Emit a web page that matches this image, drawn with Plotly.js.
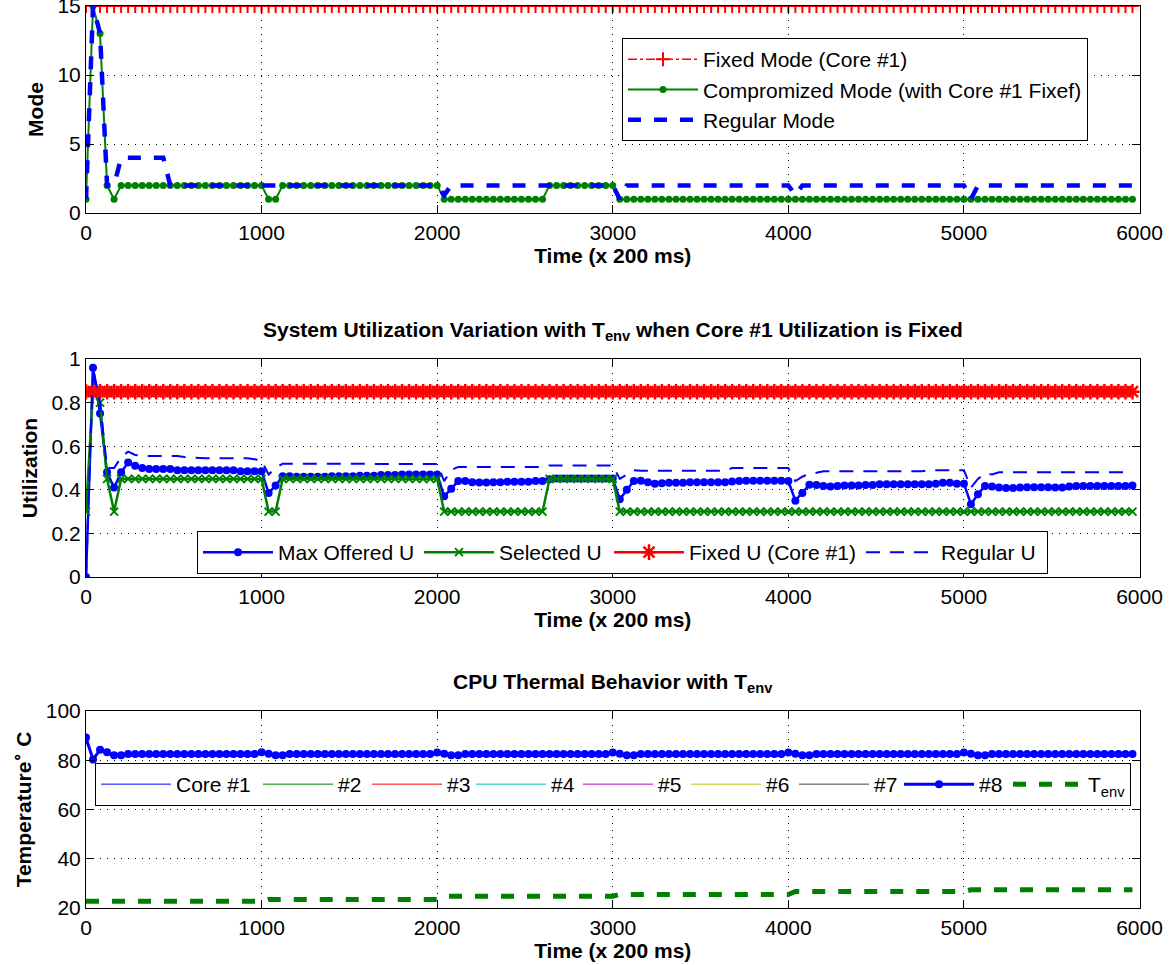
<!DOCTYPE html>
<html><head><meta charset="utf-8">
<script src="https://cdn.plot.ly/plotly-3.0.1.min.js"></script>
<style>html,body{margin:0;padding:0;background:#fff}#chart{width:1172px;height:965px}</style>
</head><body><div id="chart"></div>
<script>
// ---------- DATA ----------
const time = [
0,40,80,120,160,200,240,280,320,360,400,440,480,520,560,600,640,680,720,760,800,840,880,920,960,1000,
1040,1080,1120,1160,1200,1240,1280,1320,1360,1400,1440,1480,1520,1560,1600,1640,1680,1720,1760,1800,1840,1880,1920,1960,2000,
2040,2080,2120,2160,2200,2240,2280,2320,2360,2400,2440,2480,2520,2560,2600,2640,2680,2720,2760,2800,2840,2880,2920,2960,3000,
3040,3080,3120,3160,3200,3240,3280,3320,3360,3400,3440,3480,3520,3560,3600,3640,3680,3720,3760,3800,3840,3880,3920,3960,4000,
4040,4080,4120,4160,4200,4240,4280,4320,4360,4400,4440,4480,4520,4560,4600,4640,4680,4720,4760,4800,4840,4880,4920,4960,5000,
5040,5080,5120,5160,5200,5240,5280,5320,5360,5400,5440,5480,5520,5560,5600,5640,5680,5720,5760,5800,5840,5880,5920,5960];

const modeFixed = [
15,15,15,15,15, 15,15,15,15,15, 15,15,15,15,15, 15,15,15,15,15, 15,15,15,15,15,
15,15,15,15,15, 15,15,15,15,15, 15,15,15,15,15, 15,15,15,15,15, 15,15,15,15,15,
15,15,15,15,15, 15,15,15,15,15, 15,15,15,15,15, 15,15,15,15,15, 15,15,15,15,15,
15,15,15,15,15, 15,15,15,15,15, 15,15,15,15,15, 15,15,15,15,15, 15,15,15,15,15,
15,15,15,15,15, 15,15,15,15,15, 15,15,15,15,15, 15,15,15,15,15, 15,15,15,15,15,
15,15,15,15,15, 15,15,15,15,15, 15,15,15,15,15, 15,15,15,15,15, 15,15,15,15,15];

const modeCompromized = [
1,15,13,2,1, 2,2,2,2,2, 2,2,2,2,2, 2,2,2,2,2, 2,2,2,2,2,
2,1,1,2,2, 2,2,2,2,2, 2,2,2,2,2, 2,2,2,2,2, 2,2,2,2,2,
2,1,1,1,1, 1,1,1,1,1, 1,1,1,1,1, 1,2,2,2,2, 2,2,2,2,2,
2,1,1,1,1, 1,1,1,1,1, 1,1,1,1,1, 1,1,1,1,1, 1,1,1,1,1,
1,1,1,1,1, 1,1,1,1,1, 1,1,1,1,1, 1,1,1,1,1, 1,1,1,1,1,
1,1,1,1,1, 1,1,1,1,1, 1,1,1,1,1, 1,1,1,1,1, 1,1,1,1,1];

const modeRegular = [
1,15,13,2,2, 4,4,4,4,4, 4,4,2,2,2, 2,2,2,2,2, 2,2,2,2,2,
2,2,2,2,2, 2,2,2,2,2, 2,2,2,2,2, 2,2,2,2,2, 2,2,2,2,2,
2,1.3,2,2,2, 2,2,2,2,2, 2,2,2,2,2, 2,2,2,2,2, 2,2,2,2,2,
2,1,2,2,2, 2,2,2,2,2, 2,2,2,2,2, 2,2,2,2,2, 2,2,2,2,2,
2,1.3,2,2,2, 2,2,2,2,2, 2,2,2,2,2, 2,2,2,2,2, 2,2,2,2,2,
2,1,2,2,2, 2,2,2,2,2, 2,2,2,2,2, 2,2,2,2,2, 2,2,2,2,2];

const maxOfferedU = [
0,0.96,0.75,0.48,0.41, 0.48,0.525,0.51,0.5,0.495, 0.495,0.495,0.495,0.49,0.49, 0.49,0.49,0.49,0.49,0.49, 0.49,0.49,0.485,0.485,0.485,
0.485,0.385,0.42,0.462,0.462, 0.46,0.46,0.46,0.46,0.46, 0.462,0.462,0.462,0.462,0.465, 0.465,0.465,0.468,0.468,0.468, 0.47,0.47,0.47,0.47,0.47,
0.47,0.37,0.405,0.44,0.44, 0.435,0.433,0.433,0.435,0.435, 0.437,0.437,0.437,0.437,0.44, 0.44,0.448,0.452,0.452,0.452, 0.452,0.452,0.452,0.452,0.452,
0.452,0.357,0.4,0.44,0.442, 0.435,0.428,0.43,0.432,0.432, 0.432,0.435,0.435,0.435,0.435, 0.435,0.435,0.438,0.44,0.442, 0.442,0.442,0.442,0.442,0.442,
0.44,0.35,0.385,0.423,0.422, 0.418,0.415,0.418,0.42,0.42, 0.42,0.422,0.422,0.425,0.425, 0.425,0.425,0.425,0.425,0.425, 0.425,0.428,0.432,0.432,0.428,
0.428,0.334,0.38,0.418,0.415, 0.41,0.408,0.408,0.41,0.412, 0.412,0.412,0.412,0.41,0.41, 0.415,0.418,0.418,0.418,0.418, 0.418,0.418,0.418,0.418,0.42];

const selectedU = [
0.3,0.85,0.8,0.45,0.3, 0.45,0.45,0.45,0.45,0.45, 0.45,0.45,0.45,0.45,0.45, 0.45,0.45,0.45,0.45,0.45, 0.45,0.45,0.45,0.45,0.45,
0.45,0.3,0.3,0.45,0.45, 0.45,0.45,0.45,0.45,0.45, 0.45,0.45,0.45,0.45,0.45, 0.45,0.45,0.45,0.45,0.45, 0.45,0.45,0.45,0.45,0.45,
0.45,0.3,0.3,0.3,0.3, 0.3,0.3,0.3,0.3,0.3, 0.3,0.3,0.3,0.3,0.3, 0.3,0.45,0.45,0.45,0.45, 0.45,0.45,0.45,0.45,0.45,
0.45,0.3,0.3,0.3,0.3, 0.3,0.3,0.3,0.3,0.3, 0.3,0.3,0.3,0.3,0.3, 0.3,0.3,0.3,0.3,0.3, 0.3,0.3,0.3,0.3,0.3,
0.3,0.3,0.3,0.3,0.3, 0.3,0.3,0.3,0.3,0.3, 0.3,0.3,0.3,0.3,0.3, 0.3,0.3,0.3,0.3,0.3, 0.3,0.3,0.3,0.3,0.3,
0.3,0.3,0.3,0.3,0.3, 0.3,0.3,0.3,0.3,0.3, 0.3,0.3,0.3,0.3,0.3, 0.3,0.3,0.3,0.3,0.3, 0.3,0.3,0.3,0.3,0.3];

const fixedU = [
0.85,0.85,0.85,0.85,0.85, 0.85,0.85,0.85,0.85,0.85, 0.85,0.85,0.85,0.85,0.85, 0.85,0.85,0.85,0.85,0.85, 0.85,0.85,0.85,0.85,0.85,
0.85,0.85,0.85,0.85,0.85, 0.85,0.85,0.85,0.85,0.85, 0.85,0.85,0.85,0.85,0.85, 0.85,0.85,0.85,0.85,0.85, 0.85,0.85,0.85,0.85,0.85,
0.85,0.85,0.85,0.85,0.85, 0.85,0.85,0.85,0.85,0.85, 0.85,0.85,0.85,0.85,0.85, 0.85,0.85,0.85,0.85,0.85, 0.85,0.85,0.85,0.85,0.85,
0.85,0.85,0.85,0.85,0.85, 0.85,0.85,0.85,0.85,0.85, 0.85,0.85,0.85,0.85,0.85, 0.85,0.85,0.85,0.85,0.85, 0.85,0.85,0.85,0.85,0.85,
0.85,0.85,0.85,0.85,0.85, 0.85,0.85,0.85,0.85,0.85, 0.85,0.85,0.85,0.85,0.85, 0.85,0.85,0.85,0.85,0.85, 0.85,0.85,0.85,0.85,0.85,
0.85,0.85,0.85,0.85,0.85, 0.85,0.85,0.85,0.85,0.85, 0.85,0.85,0.85,0.85,0.85, 0.85,0.85,0.85,0.85,0.85, 0.85,0.85,0.85,0.85,0.85];

const regularU = [
0,0.96,0.8,0.5,0.5, 0.55,0.575,0.56,0.555,0.555, 0.555,0.555,0.555,0.555,0.55, 0.548,0.545,0.545,0.545,0.545, 0.545,0.545,0.545,0.545,0.54,
0.535,0.47,0.5,0.52,0.52, 0.52,0.52,0.52,0.52,0.52, 0.52,0.52,0.52,0.52,0.52, 0.518,0.518,0.518,0.518,0.518, 0.518,0.518,0.518,0.518,0.518,
0.518,0.44,0.49,0.505,0.505, 0.505,0.505,0.505,0.505,0.505, 0.505,0.505,0.505,0.505,0.505, 0.505,0.512,0.512,0.512,0.512, 0.512,0.512,0.512,0.512,0.512,
0.512,0.45,0.47,0.49,0.487, 0.487,0.487,0.487,0.487,0.487, 0.487,0.487,0.487,0.487,0.487, 0.487,0.487,0.5,0.5,0.5, 0.5,0.5,0.5,0.5,0.5,
0.5,0.44,0.46,0.475,0.478, 0.485,0.485,0.485,0.485,0.485, 0.485,0.485,0.485,0.485,0.485, 0.485,0.485,0.485,0.485,0.485, 0.49,0.49,0.49,0.49,0.49,
0.49,0.41,0.45,0.475,0.47, 0.48,0.48,0.48,0.48,0.48, 0.48,0.48,0.48,0.48,0.48, 0.48,0.48,0.48,0.48,0.48, 0.48,0.48,0.48,0.48,0.48];

const core8Temp = [
89.2,80.3,84.3,83.2,82.0, 82.0,82.5,82.5,82.5,82.5, 82.5,82.5,82.5,82.5,82.5, 82.5,82.5,82.5,82.5,82.5, 82.5,82.5,82.5,82.5,82.5,
83.2,82.6,82.0,82.0,82.5, 82.5,82.5,82.5,82.5,82.5, 82.5,82.5,82.5,82.5,82.5, 82.5,82.5,82.5,82.5,82.5, 82.5,82.5,82.5,82.5,82.5,
83.1,82.6,82.0,82.0,82.5, 82.5,82.5,82.5,82.5,82.5, 82.5,82.5,82.5,82.5,82.5, 82.5,82.5,82.5,82.5,82.5, 82.5,82.5,82.5,82.5,82.5,
83.1,82.6,82.0,82.0,82.5, 82.5,82.5,82.5,82.5,82.5, 82.5,82.5,82.5,82.5,82.5, 82.5,82.5,82.5,82.5,82.5, 82.5,82.5,82.5,82.5,82.5,
83.1,82.6,82.0,82.0,82.5, 82.5,82.5,82.5,82.5,82.5, 82.5,82.5,82.5,82.5,82.5, 82.5,82.5,82.5,82.5,82.5, 82.5,82.5,82.5,82.5,82.5,
83.1,82.6,82.0,82.0,82.5, 82.5,82.5,82.5,82.5,82.5, 82.5,82.5,82.5,82.5,82.5, 82.5,82.5,82.5,82.5,82.5, 82.5,82.5,82.5,82.5,82.5];

// cores #1..#7 are drawn underneath #8 and cannot be told apart: one shared reading
const otherCoresTemp = [
87.8,80.8,83.9,82.8,81.6, 81.5,81.8,81.8,81.8,81.8, 81.8,81.8,81.8,81.8,81.8, 81.8,81.8,81.8,81.8,81.8, 81.8,81.8,81.8,81.8,81.8,
82.7,82.1,81.5,81.5,81.8, 81.8,81.8,81.8,81.8,81.8, 81.8,81.8,81.8,81.8,81.8, 81.8,81.8,81.8,81.8,81.8, 81.8,81.8,81.8,81.8,81.8,
82.6,82.1,81.5,81.5,81.8, 81.8,81.8,81.8,81.8,81.8, 81.8,81.8,81.8,81.8,81.8, 81.8,81.8,81.8,81.8,81.8, 81.8,81.8,81.8,81.8,81.8,
82.6,82.1,81.5,81.5,81.8, 81.8,81.8,81.8,81.8,81.8, 81.8,81.8,81.8,81.8,81.8, 81.8,81.8,81.8,81.8,81.8, 81.8,81.8,81.8,81.8,81.8,
82.6,82.1,81.5,81.5,81.8, 81.8,81.8,81.8,81.8,81.8, 81.8,81.8,81.8,81.8,81.8, 81.8,81.8,81.8,81.8,81.8, 81.8,81.8,81.8,81.8,81.8,
82.6,82.1,81.5,81.5,81.8, 81.8,81.8,81.8,81.8,81.8, 81.8,81.8,81.8,81.8,81.8, 81.8,81.8,81.8,81.8,81.8, 81.8,81.8,81.8,81.8,81.8];

const tEnv = [
22.7,22.7,22.7,22.7,22.7, 22.7,22.7,22.7,22.7,22.7, 22.7,22.7,22.7,22.7,22.7, 22.7,22.7,22.7,22.7,22.7, 22.7,22.7,22.7,22.7,22.7,
22.7,23.5,23.5,23.5,23.5, 23.5,23.5,23.5,23.5,23.5, 23.5,23.5,23.5,23.5,23.5, 23.5,23.5,23.5,23.5,23.5, 23.5,23.5,23.5,23.5,23.5,
23.5,24.8,24.8,24.8,24.8, 24.8,24.8,24.8,24.8,24.8, 24.8,24.8,24.8,24.8,24.8, 24.8,24.8,24.8,24.8,24.8, 24.8,24.8,24.8,24.8,24.8,
24.8,25.5,25.5,25.5,25.5, 25.5,25.5,25.5,25.5,25.5, 25.5,25.5,25.5,25.5,25.5, 25.5,25.5,25.5,25.5,25.5, 25.5,25.5,25.5,25.5,25.5,
25.5,26.7,26.7,26.7,26.7, 26.7,26.7,26.7,26.7,26.7, 26.7,26.7,26.7,26.7,26.7, 26.7,26.7,26.7,26.7,26.7, 26.7,26.7,26.7,26.7,26.7,
26.7,27.4,27.4,27.4,27.4, 27.4,27.4,27.4,27.4,27.4, 27.4,27.4,27.4,27.4,27.4, 27.4,27.4,27.4,27.4,27.4, 27.4,27.4,27.4,27.4,27.4];

const xTicks = [0,1000,2000,3000,4000,5000,6000];
const modeTicks = [0,5,10,15];
const utilTicks = [0,0.2,0.4,0.6,0.8,1];
const utilTickText = ['0','0.2','0.4','0.6','0.8','1'];
const tempTicks = [20,40,60,80,100];
const coreNames = ['Core #1','#2','#3','#4','#5','#6','#7'];
const coreColors = ['#0000ff','#008000','#ff0000','#00bfbf','#bf00bf','#bfbf00','#404040'];

// ---------- STYLE ----------
const FONT = 'Liberation Sans, Arial, Helvetica, sans-serif';
const BLUE = '#0000ff', GREEN = '#008000', RED = '#ff0000';

const traces = [];
// Top: Mode
traces.push({x: time, y: modeFixed, name: 'Fixed Mode (Core #1)', xaxis: 'x', yaxis: 'y', legend: 'legend', legendgroup: 'a',
  mode: 'lines+markers', line: {color: RED, width: 1.5, dash: 'dashdot'},
  marker: {symbol: 'cross-thin-open', size: 10, color: RED, line: {color: RED, width: 2}}});
traces.push({x: time, y: modeCompromized, name: 'Compromized Mode (with Core #1 Fixef)', xaxis: 'x', yaxis: 'y', legend: 'legend', legendgroup: 'b',
  mode: 'lines+markers', line: {color: GREEN, width: 2}, marker: {symbol: 'circle', size: 7, color: GREEN}});
traces.push({x: time, y: modeRegular, name: 'Regular Mode', xaxis: 'x', yaxis: 'y', legend: 'legend', legendgroup: 'c',
  mode: 'lines', line: {color: BLUE, width: 4.5, dash: '13px,13px'}});

// Middle: Utilization
traces.push({x: time, y: maxOfferedU, name: 'Max Offered U', xaxis: 'x2', yaxis: 'y2', legend: 'legend2', legendwidth: 136,
  mode: 'lines+markers', line: {color: BLUE, width: 2.5}, marker: {symbol: 'circle', size: 8, color: BLUE}});
traces.push({x: time, y: selectedU, name: 'Selected U', xaxis: 'x2', yaxis: 'y2', legend: 'legend2', legendwidth: 105,
  mode: 'lines+markers', line: {color: GREEN, width: 2.5}, marker: {symbol: 'x-thin-open', size: 8, color: GREEN, line: {color: GREEN, width: 2}}});
traces.push({x: time, y: fixedU, name: 'Fixed U (Core #1)', xaxis: 'x2', yaxis: 'y2', legend: 'legend2', legendwidth: 167,
  mode: 'lines+markers', line: {color: RED, width: 2.5}, marker: {symbol: 'asterisk-open', size: 13, color: RED, line: {color: RED, width: 2.5}}});
traces.push({x: time, y: regularU, name: 'Regular U', xaxis: 'x2', yaxis: 'y2', legend: 'legend2', legendwidth: 101,
  mode: 'lines', line: {color: BLUE, width: 2, dash: '14px,10px'}});

// Bottom: Temperature
const coreWidths = [77, 24, 19, 22, 23, 23, 20];
for (let c = 0; c < 7; c++) {
  traces.push({x: time, y: otherCoresTemp, name: coreNames[c], xaxis: 'x3', yaxis: 'y3', legend: 'legend3', legendwidth: coreWidths[c],
    mode: 'lines', line: {color: coreColors[c], width: 1}});
}
traces.push({x: time, y: core8Temp, name: '#8', xaxis: 'x3', yaxis: 'y3', legend: 'legend3', legendwidth: 24,
  mode: 'lines+markers', line: {color: BLUE, width: 3}, marker: {symbol: 'circle', size: 8, color: BLUE}});
traces.push({x: time, y: tEnv, name: 'T<sub>env</sub>', xaxis: 'x3', yaxis: 'y3', legend: 'legend3', legendwidth: 37,
  mode: 'lines', line: {color: GREEN, width: 5, dash: '13px,13px'}});

const XD = [86/1172, 1139.5/1172];
function xAxis(anchor) {
  return {domain: XD, anchor: anchor, range: [0, 6000], tickvals: xTicks, ticktext: xTicks.map(String),
    showline: true, mirror: 'ticks', linecolor: '#000', linewidth: 1, ticks: 'inside', ticklen: 8, tickcolor: '#000',
    showgrid: true, gridcolor: '#000', griddash: '1px,6px', gridwidth: 1, zeroline: false,
    ticklabelstandoff: 1, ticklabeloverflow: 'allow',
    tickfont: {size: 21, color: '#000', family: FONT},
    title: {text: '<b>Time (x 200 ms)</b>', font: {size: 21, color: '#000', family: FONT}, standoff: 3}};
}
function yAxis(anchor, dom, range, tv, tt, title) {
  return {domain: dom, anchor: anchor, range: range, tickvals: tv, ticktext: tt,
    showline: true, mirror: 'ticks', linecolor: '#000', linewidth: 1, ticks: 'inside', ticklen: 8, tickcolor: '#000',
    showgrid: true, gridcolor: '#000', griddash: '1px,6px', gridwidth: 1, zeroline: false,
    ticklabeloverflow: 'allow',
    tickfont: {size: 21, color: '#000', family: FONT},
    title: {text: title, font: {size: 21, color: '#000', family: FONT}, standoff: 8}};
}
const legendBase = {bgcolor: '#fff', bordercolor: '#000', borderwidth: 1, font: {size: 21, color: '#000', family: FONT},
  xanchor: 'left', yanchor: 'top', itemwidth: 70, itemclick: false};

const layout = {
  width: 1172, height: 965, margin: {l: 0, r: 0, t: 0, b: 0},
  paper_bgcolor: '#fff', plot_bgcolor: '#fff',
  font: {family: FONT, color: '#000'},
  xaxis: xAxis('y'),
  yaxis: yAxis('x', [1 - 213/965, 1 - 6/965], [0, 15], modeTicks, modeTicks.map(String), '<b>Mode</b>'),
  xaxis2: xAxis('y2'),
  yaxis2: yAxis('x2', [1 - 577/965, 1 - 359/965], [0, 1], utilTicks, utilTickText, '<b>Utilization</b>'),
  xaxis3: xAxis('y3'),
  yaxis3: yAxis('x3', [1 - 908/965, 1 - 711/965], [20, 100], tempTicks, tempTicks.map(String), '<b>Temperature<sup>∘</sup> C</b>'),
  legend: Object.assign({}, legendBase, {x: 622/1172, y: 1 - 38/965, orientation: 'v', traceorder: 'grouped', tracegroupgap: 0}),
  legend2: Object.assign({}, legendBase, {x: 197/1172, y: 1 - 531/965, orientation: 'h'}),
  legend3: Object.assign({}, legendBase, {x: 95/1172, y: 1 - 763/965, orientation: 'h'}),
  annotations: [
    {text: '<b>System Utilization Variation with T<sub>env</sub> when Core #1 Utilization is Fixed</b>', xref: 'paper', yref: 'paper',
      x: 612.75/1172, y: 1 - 331/965, xanchor: 'center', yanchor: 'middle', showarrow: false, font: {size: 21, color: '#000', family: FONT}},
    {text: '<b>CPU Thermal Behavior with T<sub>env</sub></b>', xref: 'paper', yref: 'paper',
      x: 612.75/1172, y: 1 - 683/965, xanchor: 'center', yanchor: 'middle', showarrow: false, font: {size: 21, color: '#000', family: FONT}}
  ],
  showlegend: true
};

Plotly.newPlot('chart', traces, layout, {displayModeBar: false, staticPlot: true});
</script>
</body></html>
